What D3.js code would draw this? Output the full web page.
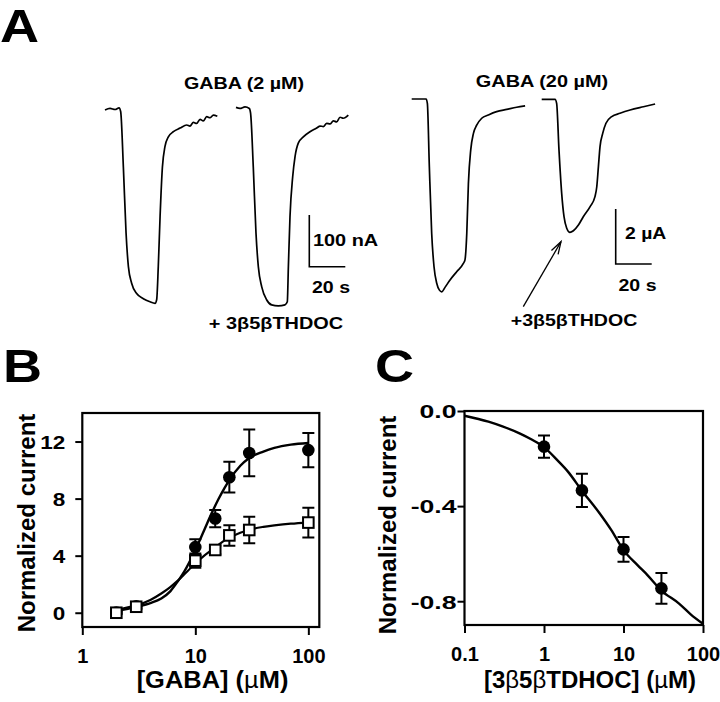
<!DOCTYPE html>
<html><head><meta charset="utf-8">
<script src="https://cdn.jsdelivr.net/npm/d3@7"></script>
<style>
body{margin:0;background:#fff}
text{font-family:"Liberation Sans",Arial,Helvetica,sans-serif;font-weight:bold;fill:#000}
</style>
</head><body>
<svg id="fig" width="720" height="702"></svg>
<script>
// ---------------- DATA ----------------
// Panel A: current traces (time in s, current in nA or µA)
const trace1T = [0,2.8,5.6,7.8,8.7,10.2,11.7,13.0,14.8,17.6,21.3,25.0,27.8,28.7,29.6,30.6,31.9,33.3,35.2,38.0,41.7,45.4,47.2,49.1,50.9,52.8,54.6,56.5,58.3,60.2,62.4];
const trace1I = [0,3,1,4,-3,-110,-238,-303,-335,-355,-365,-371,-374,-367,-303,-206,-110,-71,-52,-42,-35,-29,-31,-24,-26,-18,-21,-13,-15,-10,-12];
const trace2T = [0,2.2,5.0,7.4,8.1,9.6,11.1,12.4,14.3,17.0,19.8,23.5,27.2,28.5,29.1,30.0,31.5,32.8,34.6,37.4,41.1,44.8,46.7,48.5,50.4,52.2,54.1,55.9,57.8,59.6,62.4];
const trace2I = [5,3,6,3,-6,-110,-238,-303,-342,-367,-377,-379,-377,-371,-303,-206,-129,-90,-64,-52,-42,-35,-31,-32,-26,-27,-21,-23,-14,-16,-10];
const trace3T = [0,8.0,8.7,9.8,11.1,12.4,13.9,15.4,16.7,18.5,21.3,25.0,28.7,29.6,30.6,31.5,32.8,34.3,36.1,38.9,42.6,47.2,52.8,58.3,63.0];
const trace3I = [0,0,-0.16,-2.46,-4.88,-6.10,-6.70,-6.95,-7.01,-6.85,-6.58,-6.28,-5.98,-5.85,-4.88,-3.07,-1.85,-1.25,-0.95,-0.70,-0.58,-0.46,-0.38,-0.30,-0.25];
const trace4T = [0,7.4,8.3,9.6,11.1,12.4,13.9,15.7,17.6,20.4,23.1,26.9,29.6,30.6,31.5,32.4,33.9,35.7,38.9,43.5,49.1,56.5,63.0];
const trace4I = [0,0,-0.15,-1.84,-3.42,-4.27,-4.69,-4.84,-4.78,-4.57,-4.27,-3.90,-3.54,-3.18,-2.45,-1.72,-1.24,-0.87,-0.63,-0.51,-0.39,-0.27,-0.17];

// Panel B: GABA concentration-response
const gabaConc = [2, 3, 10, 15, 20, 30, 100];
const withSteroid = [0.02, 0.45, 4.6, 6.6, 9.5, 11.2, 11.4];
const withSteroidErr = [0.1, 0.15, 0.55, 0.6, 1.08, 1.64, 1.2];
const control = [0.0, 0.42, 3.65, 4.4, 5.42, 5.8, 6.32];
const controlErr = [0.1, 0.15, 0.5, 0.3, 0.72, 0.93, 1.04];
const fitX_B = [2, 3, 4, 5, 6, 7, 8, 10, 12, 14, 16, 18, 20, 25, 30, 40, 50, 70, 100];
const fitSteroid = [0.12, 0.42, 0.68, 1.0, 1.5, 2.2, 2.9, 4.4, 5.8, 7.0, 7.95, 8.7, 9.3, 10.3, 10.85, 11.3, 11.55, 11.78, 11.9];
const fitControl = [0.22, 0.52, 0.9, 1.35, 1.8, 2.25, 2.7, 3.45, 4.0, 4.4, 4.75, 5.05, 5.25, 5.6, 5.82, 6.02, 6.12, 6.24, 6.32];
const yTicksB = [0, 4, 8, 12];
const xTicksB = [1, 10, 100];

// Panel C: 3β5βTHDOC inhibition
const steroidConc = [1, 3, 10, 30];
const inhib = [-0.15, -0.334, -0.582, -0.746];
const inhibErr = [0.047, 0.07, 0.052, 0.065];
const fitX_C = [0.1, 0.2, 0.3, 0.5, 0.7, 1, 1.5, 2, 3, 5, 7, 10, 15, 20, 30, 50, 70, 100];
const fitInhib = [-0.02, -0.045, -0.065, -0.095, -0.12, -0.152, -0.21, -0.255, -0.335, -0.43, -0.5, -0.585, -0.648, -0.69, -0.755, -0.81, -0.855, -0.895];
const yTicksC = [0, -0.4, -0.8];
const xTicksC = [0.1, 1, 10, 100];

// ---------------- DRAW ----------------
const svg = d3.select("#fig");
svg.append("rect").attr("width",720).attr("height",702).attr("fill","#fff");

function stretch(sel, k){
  sel.each(function(){
    const L = this.getComputedTextLength();
    this.setAttribute("textLength", L*k);
    this.setAttribute("lengthAdjust","spacingAndGlyphs");
  });
  return sel;
}
function label(g, txt, x, y, size, anchor, k){
  const t = g.append("text").attr("x",x).attr("y",y).attr("font-size",size)
    .attr("text-anchor",anchor||"start").text(txt);
  if(k) stretch(t,k);
  return t;
}

// Panel letters
label(svg,"A",0,42,47,"start",1.15);
label(svg,"B",3,382,47,"start",1.15);
label(svg,"C",375,382,47,"start",1.15);

// ----- Panel A -----
const gA = svg.append("g");
const traceLine = (xs, ys) => d3.line().x(d=>xs(d[0])).y(d=>ys(d[1])).curve(d3.curveMonotoneX);
function drawTrace(T, I, ox, oy, unitI, pxI){
  const xs = d3.scaleLinear().domain([0,20]).range([ox, ox+36]);
  const ys = d3.scaleLinear().domain([0,-unitI]).range([oy, oy+pxI]);
  gA.append("path").datum(d3.zip(T,I)).attr("d",traceLine(xs,ys))
    .attr("fill","none").attr("stroke","#000").attr("stroke-width",1.7).attr("stroke-linejoin","round");
  return {xs, ys};
}
drawTrace(trace1T, trace1I, 105, 110, 100, 51.7);
drawTrace(trace2T, trace2I, 236, 110, 100, 51.7);
drawTrace(trace3T, trace3I, 411.7, 99, 2, 55);
drawTrace(trace4T, trace4I, 541.7, 99.3, 2, 55);

function scaleBar(cx, cy, pxT, pxI){
  gA.append("path").attr("d",`M${cx},${cy-pxI}V${cy}H${cx+pxT}`)
    .attr("fill","none").attr("stroke","#000").attr("stroke-width",1.6);
}
scaleBar(309.3, 266.7, 36, 51.7);
scaleBar(615.7, 264, 36, 55);

label(gA,"GABA (2 µM)",244,89,17,"middle",1.16);
label(gA,"GABA (20 µM)",542,87,17,"middle",1.17);
label(gA,"100 nA",313,246,17,"start",1.17);
label(gA,"20 s",331,293,17,"middle",1.15);
label(gA,"2 µA",625,239,17,"start",1.14);
label(gA,"20 s",637.5,291,17,"middle",1.15);
label(gA,"+ 3β5βTHDOC",276,329,17,"middle",1.17);
label(gA,"+3β5βTHDOC",574,326,17,"middle",1.15);

// arrow
{
  const x1=523.3,y1=306.7,x2=561,y2=241.7;
  gA.append("line").attr("x1",x1).attr("y1",y1).attr("x2",x2).attr("y2",y2)
    .attr("stroke","#000").attr("stroke-width",1.3);
  const ang = Math.atan2(y1-y2,x1-x2), L=13, w=0.3;
  gA.append("path").attr("d",`M${x2+L*Math.cos(ang+w)},${y2+L*Math.sin(ang+w)}L${x2},${y2}L${x2+L*Math.cos(ang-w)},${y2+L*Math.sin(ang-w)}`)
    .attr("fill","none").attr("stroke","#000").attr("stroke-width",1.3);
}

// ----- generic plot panel -----
function panel(opts){
  const g = svg.append("g");
  const {x, y} = opts;
  const [x0,x1] = x.range(), [yb,yt] = y.range();
  // box
  g.append("rect").attr("x",x0).attr("y",yt).attr("width",x1-x0).attr("height",yb-yt)
    .attr("fill","none").attr("stroke","#000").attr("stroke-width",2.2);
  // x ticks
  const xa = g.append("g").attr("transform",`translate(0,${yb})`)
    .call(d3.axisBottom(x).tickValues(opts.xTicks).tickSize(8).tickSizeOuter(0).tickFormat(opts.xFmt).tickPadding(10));
  xa.select(".domain").remove();
  xa.selectAll("line").attr("stroke","#000").attr("stroke-width",2);
  xa.selectAll("text").attr("font-size",20).attr("font-family",null).attr("fill","#000").attr("dy",null).attr("y",36);
  // y ticks
  const ya = g.append("g").attr("transform",`translate(${x0},0)`)
    .call(d3.axisLeft(y).tickValues(opts.yTicks).tickSize(7).tickSizeOuter(0).tickFormat(opts.yFmt).tickPadding(opts.yPad));
  ya.select(".domain").remove();
  ya.selectAll("line").attr("stroke","#000").attr("stroke-width",2);
  ya.selectAll("text").attr("font-size",opts.yFont).attr("font-family",null).attr("fill","#000").attr("dy","0.36em");
  stretch(ya.selectAll("text"), opts.yStretch);
  return g;
}

// ----- Panel B -----
const xB = d3.scaleLog().domain([1,125]).range([82.3,319.3]);
const yB = d3.scaleLinear().domain([-1,14]).range([627,413]);
const gB = panel({x:xB, y:yB, xTicks:xTicksB, yTicks:yTicksB, xFmt:d3.format("d"), yFmt:d3.format("d"), yPad:10, yFont:18, yStretch:1.25});

const fitLineB = d3.line().x(d=>xB(d[0])).y(d=>yB(d[1])).curve(d3.curveMonotoneX);
gB.append("path").datum(d3.zip(fitX_B, fitControl)).attr("d",fitLineB)
  .attr("fill","none").attr("stroke","#000").attr("stroke-width",2.2);
gB.append("path").datum(d3.zip(fitX_B, fitSteroid)).attr("d",fitLineB)
  .attr("fill","none").attr("stroke","#000").attr("stroke-width",2.4);

function errBars(g, xs, ys, X, Y, E, cap){
  const d = d3.zip(X,Y,E);
  g.append("g").selectAll("path").data(d).join("path")
    .attr("d",v=>{const cx=xs(v[0]), t=ys(v[1]+v[2]), b=ys(v[1]-v[2]);
      return `M${cx-cap},${t}H${cx+cap}M${cx},${t}V${b}M${cx-cap},${b}H${cx+cap}`;})
    .attr("fill","none").attr("stroke","#000").attr("stroke-width",2);
}
errBars(gB, xB, yB, gabaConc, withSteroid, withSteroidErr, 6);
gB.append("g").selectAll("circle").data(d3.zip(gabaConc, withSteroid)).join("circle")
  .attr("cx",d=>xB(d[0])).attr("cy",d=>yB(d[1])).attr("r",6.3).attr("fill","#000");
errBars(gB, xB, yB, gabaConc, control, controlErr, 6);
gB.append("g").selectAll("rect").data(d3.zip(gabaConc, control)).join("rect")
  .attr("x",d=>xB(d[0])-5.3).attr("y",d=>yB(d[1])-5.3).attr("width",10.6).attr("height",10.6)
  .attr("fill","#fff").attr("stroke","#000").attr("stroke-width",2);

// B axis titles
{
  const t = gB.append("text").attr("transform","translate(35,523) rotate(-90)")
    .attr("text-anchor","middle").attr("font-size",24).text("Normalized current");
  const tx = gB.append("text").attr("x",212.5).attr("y",688).attr("text-anchor","middle").attr("font-size",24);
  tx.append("tspan").text("[GABA] (");
  tx.append("tspan").attr("font-weight","normal").text("µ");
  tx.append("tspan").text("M)");
  stretch(tx,1.06);
}

// ----- Panel C -----
const xC = d3.scaleLog().domain([0.1,100]).range([464.5,703]);
const yC = d3.scaleLinear().domain([-0.9,0]).range([625,411]);
const gC = panel({x:xC, y:yC, xTicks:xTicksC, yTicks:yTicksC, xFmt:d=>String(d), yFmt:d=>d.toFixed(1).replace("−","-"), yPad:1, yFont:19, yStretch:1.4});

const fitLineC = d3.line().x(d=>xC(d[0])).y(d=>yC(d[1])).curve(d3.curveMonotoneX);
gC.append("path").datum(d3.zip(fitX_C, fitInhib)).attr("d",fitLineC)
  .attr("fill","none").attr("stroke","#000").attr("stroke-width",2.4);
errBars(gC, xC, yC, steroidConc, inhib, inhibErr, 6);
gC.append("g").selectAll("circle").data(d3.zip(steroidConc, inhib)).join("circle")
  .attr("cx",d=>xC(d[0])).attr("cy",d=>yC(d[1])).attr("r",6.3).attr("fill","#000");

{
  gC.append("text").attr("transform","translate(396,525) rotate(-90)")
    .attr("text-anchor","middle").attr("font-size",24).text("Normalized current");
  const tx = gC.append("text").attr("x",590).attr("y",688).attr("text-anchor","middle").attr("font-size",24);
  tx.append("tspan").text("[3");
  tx.append("tspan").attr("font-weight","normal").text("β");
  tx.append("tspan").text("5");
  tx.append("tspan").attr("font-weight","normal").text("β");
  tx.append("tspan").text("TDHOC] (");
  tx.append("tspan").attr("font-weight","normal").text("µ");
  tx.append("tspan").text("M)");
}
</script>
</body></html>
